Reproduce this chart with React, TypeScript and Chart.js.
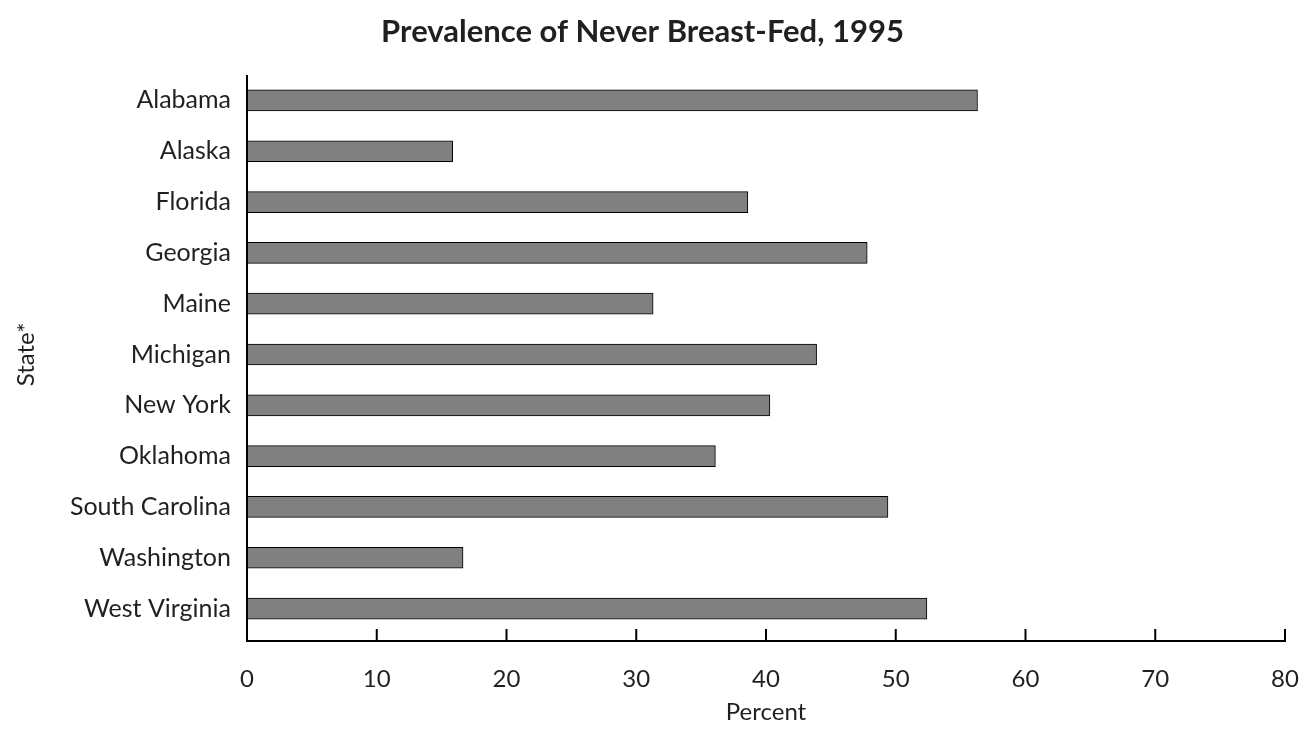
import React, { useEffect, useRef } from "react";
import { Chart, registerables } from "chart.js";

Chart.register(...registerables);

const TITLE = "Prevalence of Never Breast-Fed, 1995";
const states = [
  "Alabama",
  "Alaska",
  "Florida",
  "Georgia",
  "Maine",
  "Michigan",
  "New York",
  "Oklahoma",
  "South Carolina",
  "Washington",
  "West Virginia",
];
const percentValues = [56.3, 15.85, 38.6, 47.8, 31.3, 43.9, 40.3, 36.1, 49.4, 16.65, 52.4];
const xTickValues = [0, 10, 20, 30, 40, 50, 60, 70, 80];
const X_TITLE = "Percent";
const Y_TITLE = "State*";

const FONT = "Lato, 'Open Sans', sans-serif";
const AXIS_DROP = 7;

const axesPlugin = {
  id: "customAxes",
  afterDraw(chart: any) {
    const { ctx, chartArea } = chart;
    const xs = chart.scales.x;
    const axisY = chartArea.bottom + AXIS_DROP;
    ctx.save();
    ctx.strokeStyle = "#000";
    ctx.lineWidth = 2;
    ctx.lineCap = "butt";
    ctx.beginPath();
    ctx.moveTo(chartArea.left, chartArea.top);
    ctx.lineTo(chartArea.left, axisY + 1);
    ctx.moveTo(chartArea.left - 1, axisY);
    ctx.lineTo(xs.getPixelForValue(80) + 1, axisY);
    xTickValues.forEach((v) => {
      const px = xs.getPixelForValue(v);
      ctx.moveTo(px, axisY);
      ctx.lineTo(px, axisY - 12);
    });
    ctx.stroke();
    ctx.restore();
  },
};

export default function App() {
  const ref = useRef<HTMLCanvasElement | null>(null);
  useEffect(() => {
    if (!ref.current) return;
    const chart = new Chart(ref.current, {
      type: "bar",
      data: {
        labels: states,
        datasets: [
          {
            data: percentValues,
            backgroundColor: "#808080",
            borderColor: "#000000",
            borderWidth: 1,
            borderSkipped: false,
            barThickness: 21,
          },
        ],
      },
      options: {
        indexAxis: "y",
        animation: false,
        responsive: false,
        maintainAspectRatio: false,
        layout: { padding: { left: 0, right: 17, top: 0, bottom: 0 } },
        plugins: {
          legend: { display: false },
          tooltip: { enabled: false },
          title: {
            display: true,
            text: TITLE,
            color: "#231f20",
            font: { family: FONT, size: 31, weight: "bold", lineHeight: 1.2 },
            padding: { top: 13.4, bottom: 24.4 },
          },
        },
        scales: {
          x: {
            type: "linear",
            min: 0,
            max: 80,
            afterFit: (s: any) => {
              s.height = 98;
              s.paddingLeft = 0;
              s.paddingRight = 0;
            },
            afterBuildTicks: (s: any) => {
              s.ticks = xTickValues.map((v) => ({ value: v }));
            },
            grid: { display: false, drawTicks: false },
            border: { display: false },
            ticks: {
              color: "#231f20",
              font: { family: FONT, size: 24 },
              padding: 31,
              maxRotation: 0,
            },
            title: {
              display: true,
              text: X_TITLE,
              color: "#231f20",
              font: { family: FONT, size: 24, lineHeight: 1.2 },
              padding: { top: 0, bottom: 5.6 },
            },
          },
          y: {
            type: "category",
            offset: true,
            afterFit: (s: any) => {
              s.width = 247;
            },
            grid: { display: false, drawTicks: false },
            border: { display: false },
            ticks: {
              color: "#231f20",
              font: { family: FONT, size: 25 },
              padding: 16,
            },
            title: {
              display: true,
              text: Y_TITLE,
              color: "#231f20",
              font: { family: FONT, size: 24, lineHeight: 1.2 },
              padding: { top: 11.6, bottom: 0 },
            },
          },
        },
      },
      plugins: [axesPlugin],
    } as any);
    return () => chart.destroy();
  }, []);
  return (
    <div style={{ position: "fixed", left: 0, top: 0, width: 1302, height: 732, background: "#fff" }}>
      <canvas ref={ref} width={1302} height={732} style={{ display: "block" }} />
    </div>
  );
}
